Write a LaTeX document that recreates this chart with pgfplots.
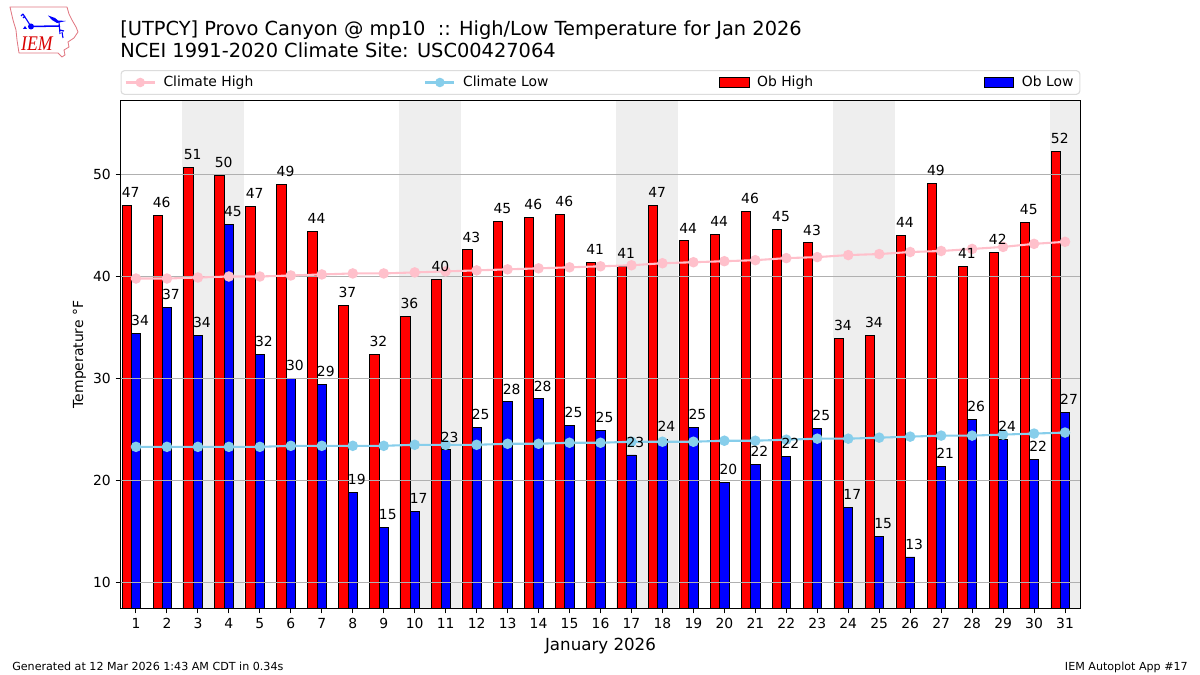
\documentclass[border=0pt]{standalone}
\usepackage{fontspec}
\setmainfont{DejaVu Sans}
\usepackage{pgfplots}
\usepackage{pgfplotstable}
\pgfplotsset{compat=1.18}
\newfontfamily\logofont{Liberation Serif}

\definecolor{climhigh}{RGB}{255,192,203}
\definecolor{climlow}{RGB}{135,206,235}
\definecolor{weekend}{RGB}{238,238,238}
\definecolor{gridgray}{RGB}{176,176,176}
\definecolor{legendedge}{RGB}{220,220,220}
\definecolor{logored}{RGB}{225,120,130}

\pgfplotstableread{
day high low chigh clow
1 47.0 34.4 39.8 23.3
2 46.0 37.0 39.8 23.3
3 50.7 34.2 39.9 23.3
4 49.9 45.1 40.0 23.3
5 46.9 32.4 40.0 23.3
6 49.0 30.0 40.1 23.4
7 44.4 29.4 40.2 23.4
8 37.2 18.8 40.3 23.4
9 32.4 15.4 40.3 23.4
10 36.1 17.0 40.4 23.5
11 39.7 23.0 40.5 23.5
12 42.6 25.2 40.6 23.5
13 45.4 27.7 40.7 23.6
14 45.8 28.0 40.8 23.6
15 46.1 25.4 40.9 23.7
16 41.4 24.9 41.0 23.7
17 41.0 22.5 41.1 23.8
18 47.0 24.0 41.3 23.8
19 43.5 25.2 41.4 23.8
20 44.1 19.8 41.5 23.9
21 46.4 21.6 41.6 23.9
22 44.6 22.4 41.8 24.0
23 43.3 25.1 41.9 24.1
24 33.9 17.4 42.1 24.1
25 34.2 14.5 42.2 24.2
26 44.0 12.5 42.4 24.3
27 49.1 21.4 42.5 24.4
28 41.0 26.0 42.7 24.4
29 42.4 24.0 42.9 24.5
30 45.3 22.1 43.2 24.6
31 52.3 26.7 43.4 24.7
}\tempdata

\begin{document}
\begin{tikzpicture}
\useasboundingbox (0,0) rectangle (864bp,486bp);

\begin{axis}[
at={(86.76bp,47.88bp)},
anchor=south west,
scale only axis,
width=691.2bp,
height=365.76bp,
xmin=0.5, xmax=31.5,
ymin=7.451, ymax=57.255,
xtick={1,...,31},
ytick={10,20,30,40,50},
axis on top,
tick align=outside,
tick pos=left,
major tick length=3.5bp,
every tick/.style={black,line width=0.72bp},
axis line style={line width=0.72bp},
/pgf/number format/assume math mode=true,
tick label style={font=\fontsize{10bp}{12bp}\selectfont},
xlabel={January 2026},
ylabel={Temperature °F},
xlabel style={font=\fontsize{12bp}{14bp}\selectfont,at={(axis description cs:0.5,0)},anchor=base,yshift=-30bp},
ylabel style={font=\fontsize{10bp}{12bp}\selectfont,at={(axis description cs:0,0.5)},anchor=base,rotate=0,yshift=27bp},
legend columns=4,
legend cell align=left,
legend style={
  at={(0,1.011)},
  anchor=south west,
  draw=legendedge,
  line width=0.8bp,
  rounded corners=2.5bp,
  inner xsep=2.6bp,
  inner ysep=2bp,
  font=\fontsize{10bp}{12bp}\selectfont,
  /tikz/every even column/.append style={column sep=121.1bp},
  /tikz/every odd column/.append style={column sep=3.5bp},
},
]
\addlegendimage{legend image code/.code={\draw[climhigh,line width=1.5bp,sharp corners] (0bp,0bp) -- (21bp,0bp); \fill[climhigh] (10.5bp,0bp) circle (3bp);}}
\addlegendimage{legend image code/.code={\draw[climlow,line width=1.5bp,sharp corners] (0bp,0bp) -- (21bp,0bp); \fill[climlow] (10.5bp,0bp) circle (3bp);}}
\addlegendimage{legend image code/.code={\draw[fill=red,draw=black,line width=0.7bp,sharp corners] (0bp,-3.5bp) rectangle (21bp,3.5bp);}}
\addlegendimage{legend image code/.code={\draw[fill=blue,draw=black,line width=0.7bp,sharp corners] (0bp,-3.5bp) rectangle (21bp,3.5bp);}}
\legend{Climate High,Climate Low,Ob High,Ob Low}

% weekends
\addplot[fill=weekend,draw=none,forget plot] coordinates {(2.5,7.451)(4.5,7.451)(4.5,57.255)(2.5,57.255)} --cycle;
\addplot[fill=weekend,draw=none,forget plot] coordinates {(9.5,7.451)(11.5,7.451)(11.5,57.255)(9.5,57.255)} --cycle;
\addplot[fill=weekend,draw=none,forget plot] coordinates {(16.5,7.451)(18.5,7.451)(18.5,57.255)(16.5,57.255)} --cycle;
\addplot[fill=weekend,draw=none,forget plot] coordinates {(23.5,7.451)(25.5,7.451)(25.5,57.255)(23.5,57.255)} --cycle;
\addplot[fill=weekend,draw=none,forget plot] coordinates {(30.5,7.451)(31.5,7.451)(31.5,57.255)(30.5,57.255)} --cycle;

% bars
\addplot[ybar,bar width=0.3,bar shift=-0.3,fill=red,draw=black,line width=0.7bp,forget plot] table[x=day,y=high] {\tempdata};
\addplot[ybar,bar width=0.3,bar shift=0,fill=blue,draw=black,line width=0.7bp,forget plot] table[x=day,y=low] {\tempdata};

% grid goes above the bars, below the lines
\addplot[gridgray,line width=0.72bp,forget plot] coordinates {(0.5,10)(31.5,10)};
\addplot[gridgray,line width=0.72bp,forget plot] coordinates {(0.5,20)(31.5,20)};
\addplot[gridgray,line width=0.72bp,forget plot] coordinates {(0.5,30)(31.5,30)};
\addplot[gridgray,line width=0.72bp,forget plot] coordinates {(0.5,40)(31.5,40)};
\addplot[gridgray,line width=0.72bp,forget plot] coordinates {(0.5,50)(31.5,50)};

% climate
\addplot[climhigh,line width=1.5bp,mark=*,mark size=3bp,mark options={solid},forget plot] table[x=day,y=chigh] {\tempdata};
\addplot[climlow,line width=1.5bp,mark=*,mark size=3bp,mark options={solid},forget plot] table[x=day,y=clow] {\tempdata};

% value labels
\addplot[draw=none,mark=none,forget plot,
  point meta=y,
  nodes near coords={\pgfmathprintnumber[fixed,precision=0]{\pgfplotspointmeta}},
  every node near coord/.style={font=\fontsize{10bp}{12bp}\selectfont,anchor=base,inner sep=0pt,text=black,xshift=2.9bp,yshift=5.6bp},
  /pgf/number format/assume math mode=true,
] table[y=high, x expr={\thisrow{day}-0.3}] {\tempdata};
\addplot[draw=none,mark=none,forget plot,
  point meta=y,
  nodes near coords={\pgfmathprintnumber[fixed,precision=0]{\pgfplotspointmeta}},
  every node near coord/.style={font=\fontsize{10bp}{12bp}\selectfont,anchor=base,inner sep=0pt,text=black,xshift=2.9bp,yshift=5.6bp},
  /pgf/number format/assume math mode=true,
] table[x=day,y=low] {\tempdata};
\end{axis}

% everything outside the axes, in pixels from the top left
\begin{scope}[shift={(0,486bp)},x=0.72bp,y=-0.72bp]
\node[anchor=base west,inner sep=0pt,font=\fontsize{13.96bp}{16bp}\selectfont] at (120,36) {[UTPCY] Provo Canyon @ mp10\ \ :: High/Low Temperature for Jan 2026};
\node[anchor=base west,inner sep=0pt,font=\fontsize{13.96bp}{16bp}\selectfont] at (120,58) {NCEI 1991-2020 Climate Site: USC00427064};
\node[anchor=base west,inner sep=0pt,font=\fontsize{8bp}{10bp}\selectfont] at (12,671) {Generated at 12 Mar 2026 1:43 AM CDT in 0.34s};
\node[anchor=base east,inner sep=0pt,font=\fontsize{8bp}{10bp}\selectfont] at (1188,671) {IEM Autoplot App \#17};

% logo
\draw[logored,line width=0.6bp,line join=round] (10,7) -- (67,7) -- (69,14) -- (72,20) -- (76,27) -- (78,32) -- (74,38) -- (68,42) -- (69,47) -- (64,50) -- (65,55) -- (62,57) -- (58,53) -- (19,53) -- (17,40) -- (16,30) -- (13,20) -- cycle;
\draw[blue,line width=1.1bp] (31,26.5) -- (60,26);
\fill[blue] (31,26.5) circle (3);
\draw[blue,line width=0.8bp] (31,26.5) -- (23,14) (23,14) -- (21,16) (25,16) -- (23,18);
\fill[blue] (48,15.5) -- (55,18) -- (58,20.5) -- (66,21) -- (57,23) -- (52,20) -- cycle;
\draw[blue,line width=0.8bp] (59,22) -- (60,34) (60,30) -- (64,31) (62,32) -- (63,38);
\fill[blue] (23,29) -- (25,26) -- (27,29) -- cycle;
\node[anchor=base west,inner sep=0pt,text=red!85!black,xscale=0.85,font=\logofont\itshape\fontsize{15bp}{16bp}\selectfont] at (21,51) {IEM};
\end{scope}
\end{tikzpicture}
\end{document}
